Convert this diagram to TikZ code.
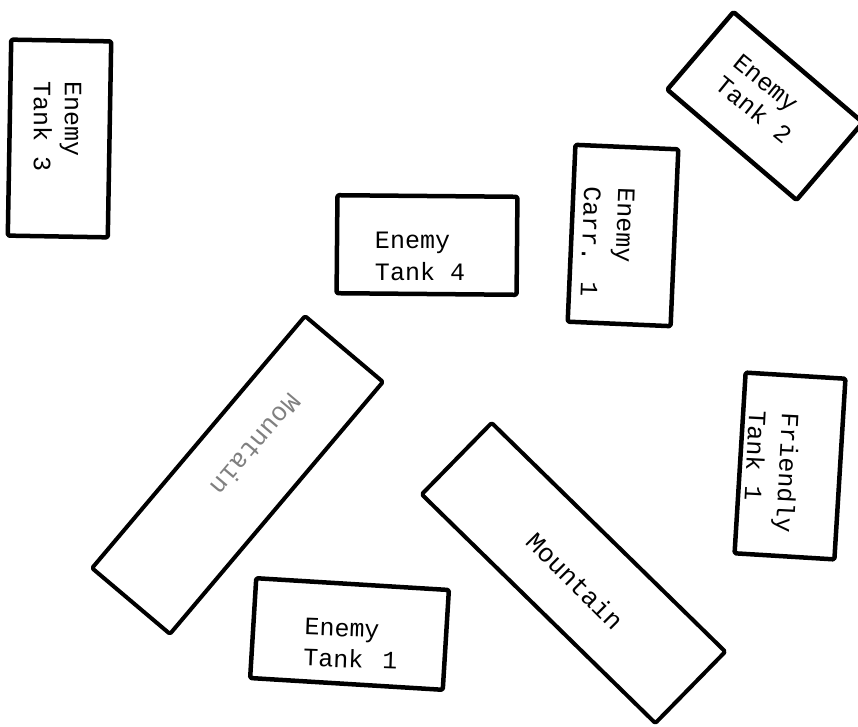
\documentclass[tikz,border=0pt]{standalone}
\usepackage{fontspec}
\newfontfamily\typew{Liberation Mono}
\begin{document}
\begin{tikzpicture}[x=1pt,y=-1pt,
  box/.style={draw=black, line width=4.5pt, line join=round, rounded corners=1.5pt, inner sep=0pt, outer sep=0pt},
  lbl/.style={font=\typew\fontsize{25}{31}\selectfont, align=left, inner sep=0pt, text=black},
  mlbl/.style={font=\typew\fontsize{26}{31}\selectfont, inner sep=0pt}]
\fill[white] (0,0) rectangle (858,727);
\useasboundingbox (0,0) rectangle (858,727);

% Enemy Tank 3
\node[box, minimum width=100pt, minimum height=196pt, rotate=-1] (b3) at (59.5,138.5) {};
\node[lbl, rotate=-90] (t3) at (57.5,127) {Enemy\\Tank 3};

% Enemy Tank 2
\node[box, minimum width=170pt, minimum height=102pt, rotate=-40.5] (b2) at (765,106) {};
\node[lbl, rotate=-39, font=\typew\fontsize{25}{29}\selectfont] (t2) at (762.5,98.6) {Enemy\\Tank 2};

% Enemy Carr. 1
\node[box, minimum width=103pt, minimum height=177pt, rotate=-2.5] (bc) at (623,235.5) {};
\node[lbl, rotate=-92, font=\typew\fontsize{25}{34}\selectfont] (tc) at (607.5,242.5) {Enemy\\Carr. 1};

% Enemy Tank 4
\node[box, minimum width=180pt, minimum height=98pt, rotate=-0.5] (b4) at (427,245) {};
\node[lbl, font=\typew\fontsize{25}{32}\selectfont] (t4) at (420,256) {Enemy\\Tank 4};

% Mountain (left)
\node[box, line width=4pt, minimum width=330pt, minimum height=102pt, rotate=49.8] (ml) at (237.5,475) {};
\node[mlbl, rotate=-130.2, text=black!50] (tml) at (256,445) {Mountain};

% Mountain (right)
\node[box, line width=4pt, minimum width=327pt, minimum height=100pt, rotate=-44.4] (mr) at (573.5,573) {};
\node[mlbl, rotate=-45] (tmr) at (575,581) {Mountain};

% Friendly Tank 1
\node[box, minimum width=100pt, minimum height=181pt, rotate=-3.5] (bf) at (790,466) {};
\node[lbl, rotate=-93, font=\typew\fontsize{25}{33}\selectfont] (tf) at (771.5,472) {Friendly\\Tank 1};

% Enemy Tank 1
\node[box, minimum width=193pt, minimum height=100pt, rotate=-3.5] (b1) at (349.5,634) {};
\node[lbl, rotate=-2] (t1) at (351,644) {Enemy\\Tank\kern4pt{} 1};
\end{tikzpicture}
\end{document}
